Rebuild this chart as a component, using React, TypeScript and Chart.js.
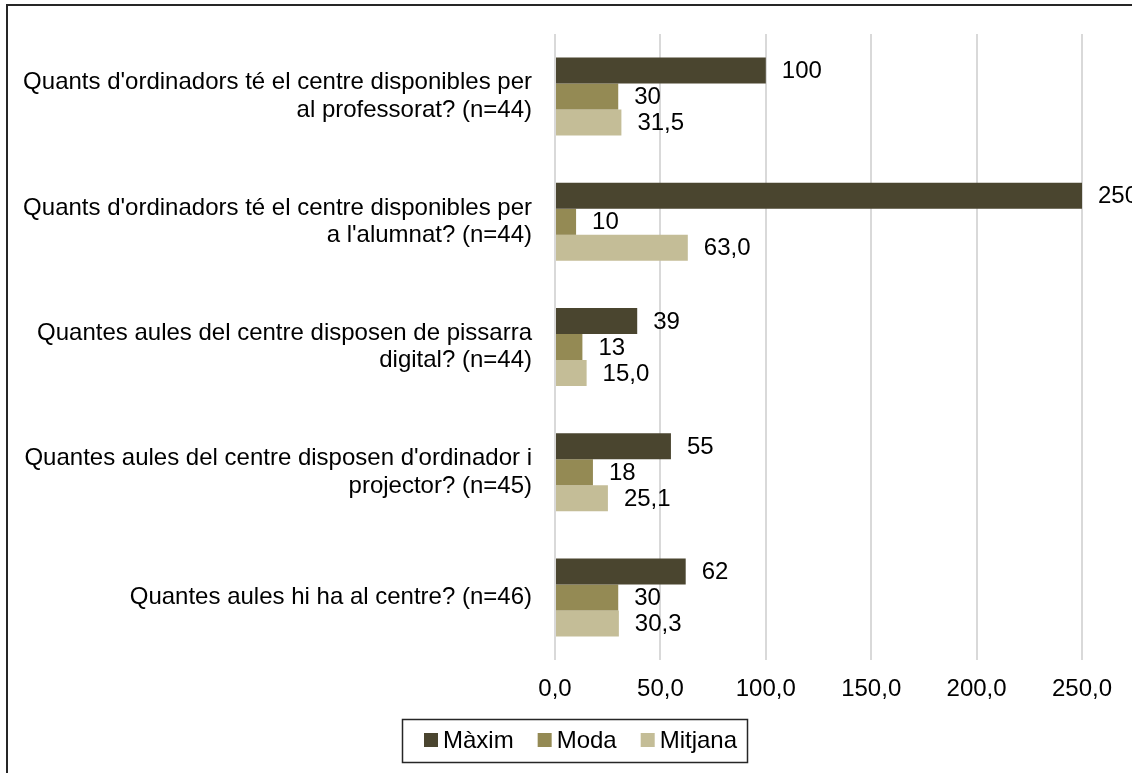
import React, { useEffect, useRef } from "react";
import { Chart, registerables } from "chart.js";

Chart.register(...registerables);

const categories: string[][] = [
  ["Quants d'ordinadors té el centre disponibles per", "al professorat? (n=44)"],
  ["Quants d'ordinadors té el centre disponibles per", "a l'alumnat? (n=44)"],
  ["Quantes aules del centre disposen de pissarra", "digital? (n=44)"],
  ["Quantes aules del centre disposen d'ordinador i", "projector? (n=45)"],
  ["Quantes aules hi ha al centre? (n=46)"],
];

const seriesNames = ["Màxim", "Moda", "Mitjana"];
const maximValues = [100, 250, 39, 55, 62];
const modaValues = [30, 10, 13, 18, 30];
const mitjanaValues = [31.5, 63.0, 15.0, 25.1, 30.3];
const seriesDecimals = [0, 0, 1];
const seriesColors = ["#4a452f", "#948a54", "#c4bd97"];

const xMin = 0;
const xMax = 250;
const xStep = 50;

const FONT = "'Liberation Sans', Arial, sans-serif";

const fmt = (v: number, d: number) => v.toFixed(d).replace(".", ",");

const decorPlugin = {
  id: "decor",
  afterDatasetsDraw(chart: any) {
    const ctx = chart.ctx;
    ctx.save();
    ctx.font = `24px ${FONT}`;
    ctx.fillStyle = "#000";
    ctx.textAlign = "left";
    ctx.textBaseline = "middle";
    chart.data.datasets.forEach((ds: any, di: number) => {
      const meta = chart.getDatasetMeta(di);
      meta.data.forEach((bar: any, i: number) => {
        const v = ds.data[i];
        ctx.fillText(fmt(v, seriesDecimals[di]), bar.x + 16, bar.y + 1);
      });
    });
    ctx.restore();
  },
  afterDraw(chart: any) {
    const ctx = chart.ctx;
    ctx.save();
    // outer frame
    ctx.strokeStyle = "#262626";
    ctx.lineWidth = 2;
    ctx.beginPath();
    ctx.moveTo(7, chart.height + 5);
    ctx.lineTo(7, 5);
    ctx.lineTo(chart.width + 5, 5);
    ctx.stroke();

    // legend
    const boxL = 402, boxT = 719, boxR = 747, boxB = 762;
    ctx.lineWidth = 1.5;
    ctx.strokeRect(boxL + 0.5, boxT + 0.5, boxR - boxL, boxB - boxT);
    ctx.font = `24px ${FONT}`;
    ctx.textAlign = "left";
    ctx.textBaseline = "middle";
    let x = 424;
    const cy = 740;
    seriesNames.forEach((name, i) => {
      ctx.fillStyle = seriesColors[i];
      ctx.fillRect(x, cy - 7, 14, 14);
      ctx.fillStyle = "#000";
      ctx.fillText(name, x + 19, cy + 1);
      x += 19 + ctx.measureText(name).width + 24;
    });
    ctx.restore();
  },
};

export default function App() {
  const ref = useRef<HTMLCanvasElement | null>(null);

  useEffect(() => {
    if (!ref.current) return;
    const values = [maximValues, modaValues, mitjanaValues];
    const chart = new Chart(ref.current, {
      type: "bar",
      data: {
        labels: categories,
        datasets: seriesNames.map((name, i) => ({
          label: name,
          data: values[i],
          backgroundColor: seriesColors[i],
          borderWidth: 0,
          barPercentage: 1.0,
          categoryPercentage: 0.623,
        })),
      },
      options: {
        indexAxis: "y",
        responsive: false,
        animation: false,
        devicePixelRatio: 1,
        layout: { padding: { top: 34, right: 50, bottom: 0, left: 0 } },
        plugins: {
          legend: { display: false },
          tooltip: { enabled: false },
        },
        scales: {
          x: {
            min: xMin,
            max: xMax,
            border: { display: false },
            grid: { color: "#d9d9d9", lineWidth: 2, drawTicks: false },
            ticks: {
              stepSize: xStep,
              padding: 15,
              color: "#000",
              font: { family: FONT, size: 24 },
              callback: (v: any) => fmt(Number(v), 1),
            },
            afterFit: (scale: any) => {
              scale.height = 113;
              scale.paddingLeft = 0;
              scale.paddingRight = 0;
            },
          },
          y: {
            border: { display: false },
            grid: { display: false, drawTicks: false },
            ticks: {
              padding: 23,
              color: "#000",
              font: { family: FONT, size: 24, lineHeight: 1.15 },
            },
            afterFit: (scale: any) => {
              scale.width = 555;
              scale.paddingTop = 0;
              scale.paddingBottom = 0;
            },
          },
        },
      },
      plugins: [decorPlugin],
    });
    return () => chart.destroy();
  }, []);

  return (
    <div style={{ position: "fixed", left: 0, top: 0, width: 1132, height: 773, background: "#fff" }}>
      <canvas ref={ref} width={1132} height={773} style={{ width: 1132, height: 773, display: "block" }} />
    </div>
  );
}
